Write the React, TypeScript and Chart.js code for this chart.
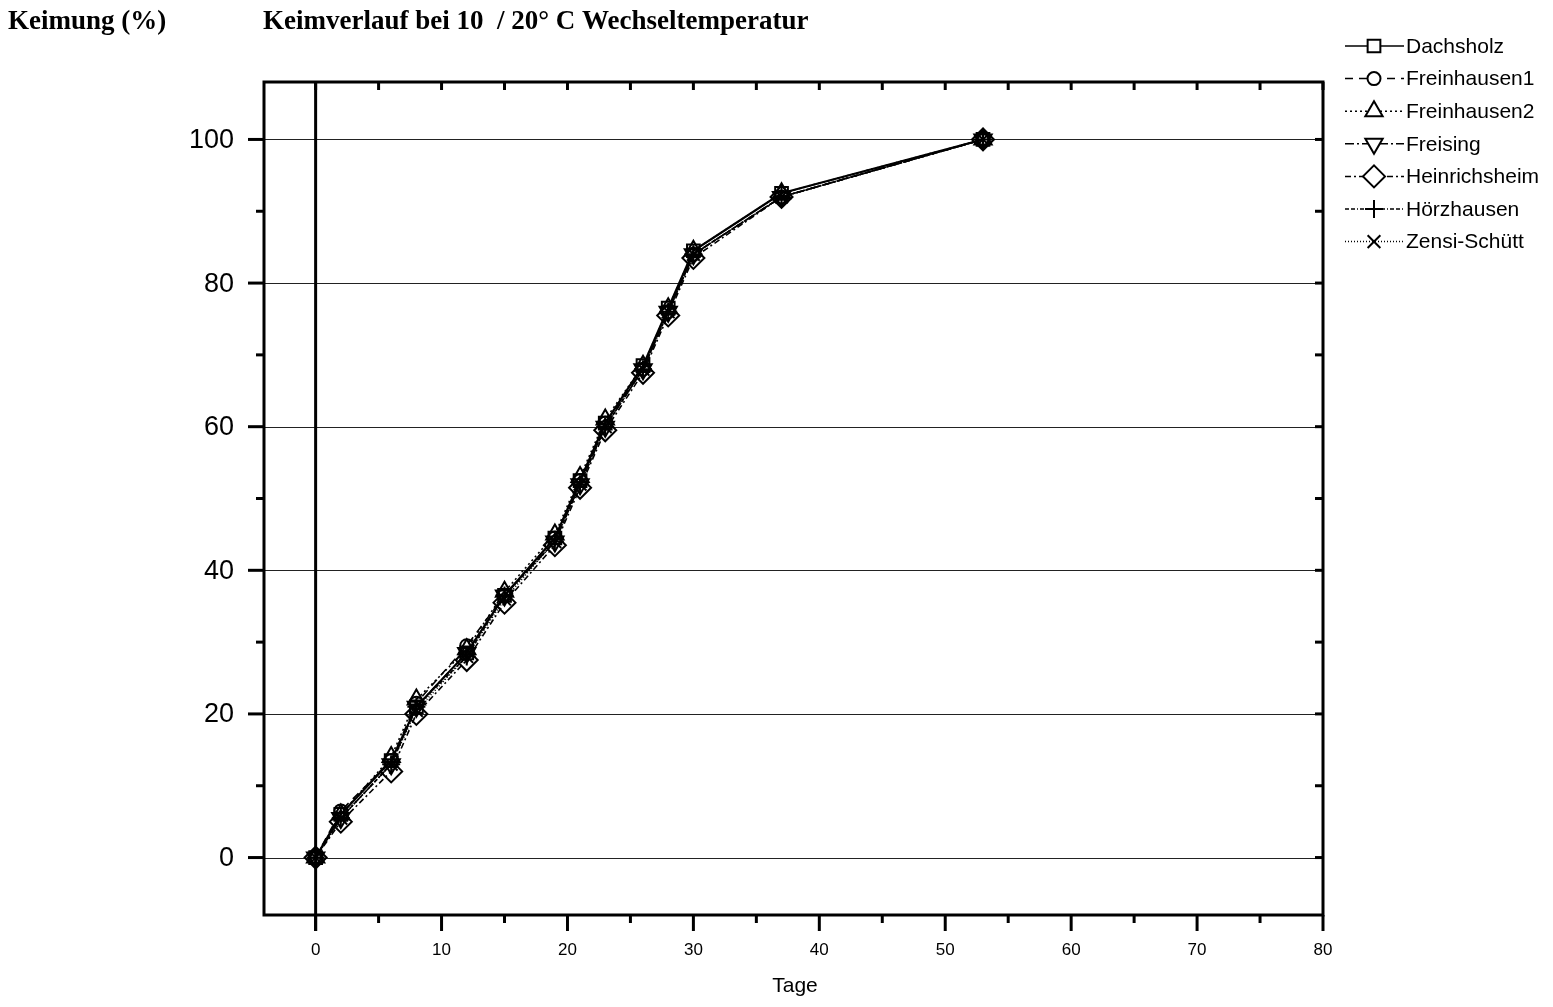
import React, { useEffect, useRef } from 'react';
import { Chart, registerables } from 'chart.js';
import { drawPoint } from 'chart.js/helpers';

Chart.register(...registerables);

const days = [0, 2, 6, 8, 12, 15, 19, 21, 23, 26, 28, 30, 37, 53];
const dachsholz = [0, 6, 13.5, 21, 28.5, 36.5, 44.5, 52.5, 60.5, 68.5, 76.5, 84.5, 92.5, 100];
const freinhausen1 = [0, 6.5, 13.5, 21.5, 29.5, 36.5, 44.5, 52.5, 60.5, 68, 76, 84, 92, 100];
const freinhausen2 = [0, 6, 14, 22, 29, 37, 45, 53, 61, 68.5, 76.5, 84.5, 92.5, 100];
const freising = [0, 5.5, 13, 21, 28.5, 36.5, 44, 52, 60, 68, 76, 84, 92, 100];
const heinrichsheim = [0, 5, 12, 20, 27.5, 35.5, 43.5, 51.5, 59.5, 67.5, 75.5, 83.5, 92, 100];
const hoerzhausen = [0, 5.5, 13, 21, 28, 36.5, 44, 52, 60, 68, 76, 84, 92, 100];
const zensiSchuett = [0, 5.5, 13, 20.5, 28, 36, 44, 52, 60, 68, 76, 84, 92, 100];

const seriesNames = ['Dachsholz', 'Freinhausen1', 'Freinhausen2', 'Freising', 'Heinrichsheim', 'Hörzhausen', 'Zensi-Schütt'];
const seriesValues = [dachsholz, freinhausen1, freinhausen2, freising, heinrichsheim, hoerzhausen, zensiSchuett];
const pointStyles = ['rect', 'circle', 'triangle', 'triangle', 'rectRot', 'cross', 'crossRot'];
const pointRotations = [0, 0, 0, 180, 0, 0, 0];
const pointRadii = [9, 6.5, 10, 10, 11, 9, 9];
const dashes = [[], [8, 6], [2, 3], [9, 3, 2, 3], [6, 3, 2, 3], [4, 2, 4, 2, 1, 2], [1, 2]];

const xMajorTicks = [0, 10, 20, 30, 40, 50, 60, 70, 80];
const xMinorTicks = [5, 15, 25, 35, 45, 55, 65, 75];
const yMajorTicks = [0, 20, 40, 60, 80, 100];
const yMinorTicks = [10, 30, 50, 70, 90];

const titleLeft = 'Keimung (%)';
const titleMain = 'Keimverlauf bei 10  / 20° C Wechseltemperatur';
const xTitle = 'Tage';

const decorPlugin = {
  id: 'decor',
  beforeDatasetsDraw(chart: any) {
    const { ctx, chartArea, scales } = chart;
    const x = scales.x;
    const y = scales.y;
    ctx.save();
    ctx.strokeStyle = '#222';
    ctx.lineWidth = 1.2;
    for (const v of yMajorTicks) {
      const py = Math.round(y.getPixelForValue(v)) + 0.5;
      ctx.beginPath();
      ctx.moveTo(chartArea.left, py);
      ctx.lineTo(chartArea.right, py);
      ctx.stroke();
    }
    ctx.strokeStyle = '#000';
    ctx.lineWidth = 3;
    const px0 = x.getPixelForValue(0);
    ctx.beginPath();
    ctx.moveTo(px0, chartArea.top);
    ctx.lineTo(px0, chartArea.bottom + 16);
    ctx.stroke();
    ctx.restore();
  },
  afterDatasetsDraw(chart: any) {
    const { ctx, chartArea, scales } = chart;
    const x = scales.x;
    const y = scales.y;
    const { left, right, top, bottom } = chartArea;
    ctx.save();
    ctx.strokeStyle = '#000';
    ctx.lineWidth = 3;
    ctx.strokeRect(left, top, right - left, bottom - top);

    const tick = (x1: number, y1: number, x2: number, y2: number) => {
      ctx.beginPath();
      ctx.moveTo(x1, y1);
      ctx.lineTo(x2, y2);
      ctx.stroke();
    };
    for (const v of yMajorTicks) {
      const py = y.getPixelForValue(v);
      tick(left - 16, py, left, py);
      tick(right - 8, py, right, py);
    }
    for (const v of yMinorTicks) {
      const py = y.getPixelForValue(v);
      tick(left - 8, py, left, py);
      tick(right - 8, py, right, py);
    }
    for (const v of xMajorTicks) {
      const px = x.getPixelForValue(v);
      tick(px, bottom, px, bottom + 16);
      tick(px, top, px, top + 8);
    }
    for (const v of xMinorTicks) {
      const px = x.getPixelForValue(v);
      tick(px, bottom, px, bottom + 8);
      tick(px, top, px, top + 8);
    }

    ctx.fillStyle = '#000';
    ctx.font = '27px "Liberation Sans", Arial, sans-serif';
    ctx.textAlign = 'right';
    ctx.textBaseline = 'middle';
    for (const v of yMajorTicks) {
      ctx.fillText(String(v), 234, y.getPixelForValue(v) + 1);
    }
    ctx.font = '17px "Liberation Sans", Arial, sans-serif';
    ctx.textAlign = 'center';
    for (const v of xMajorTicks) {
      ctx.fillText(String(v), x.getPixelForValue(v), 950);
    }
    ctx.font = '21px "Liberation Sans", Arial, sans-serif';
    ctx.fillText(xTitle, 795, 986);

    ctx.font = 'bold 27px "Liberation Serif", "Times New Roman", serif';
    ctx.textAlign = 'left';
    ctx.fillText(titleLeft, 8, 22);
    ctx.fillText(titleMain, 263, 22);

    ctx.font = '21px "Liberation Sans", Arial, sans-serif';
    chart.data.datasets.forEach((ds: any, i: number) => {
      const ly = 46 + i * 32.6;
      ctx.save();
      ctx.lineWidth = 1.5;
      ctx.setLineDash(ds.borderDash || []);
      ctx.beginPath();
      ctx.moveTo(1345, ly);
      ctx.lineTo(1404, ly);
      ctx.stroke();
      ctx.restore();
      ctx.save();
      ctx.fillStyle = '#fff';
      ctx.strokeStyle = '#000';
      ctx.lineWidth = 2;
      drawPoint(ctx, {
        pointStyle: ds.pointStyle,
        radius: ds.pointRadius,
        rotation: ds.pointRotation,
        borderWidth: 2,
      } as any, 1374, ly);
      ctx.restore();
      ctx.fillStyle = '#000';
      ctx.textAlign = 'left';
      ctx.textBaseline = 'middle';
      ctx.fillText(ds.label, 1406, ly + 1);
    });
    ctx.restore();
  },
};

export default function App() {
  const ref = useRef<HTMLCanvasElement | null>(null);
  useEffect(() => {
    if (!ref.current) return;
    const datasets = seriesNames.map((name, i) => ({
      label: name,
      data: days.map((d, j) => ({ x: d, y: seriesValues[i][j] })),
      borderColor: '#000',
      backgroundColor: '#fff',
      borderWidth: i === 0 ? 2.2 : 1.6,
      borderDash: dashes[i],
      pointStyle: pointStyles[i],
      pointRotation: pointRotations[i],
      pointRadius: pointRadii[i],
      pointBorderWidth: 2,
      pointBorderColor: '#000',
      pointBackgroundColor: 'rgba(255,255,255,0)',
      tension: 0,
    }));
    const chart = new Chart(ref.current, {
      type: 'line',
      data: { datasets },
      options: {
        animation: false,
        responsive: true,
        maintainAspectRatio: false,
        layout: { padding: { left: 264, right: 230, top: 82, bottom: 92 } },
        plugins: { legend: { display: false }, tooltip: { enabled: false }, title: { display: false } },
        scales: {
          x: { type: 'linear', min: -4.1, max: 80, display: false },
          y: { type: 'linear', min: -8, max: 108, display: false },
        },
      },
      plugins: [decorPlugin],
    } as any);
    return () => chart.destroy();
  }, []);
  return (
    <div style={{ position: 'fixed', left: 0, top: 0, width: 1553, height: 1007, background: '#fff' }}>
      <canvas ref={ref} />
    </div>
  );
}
